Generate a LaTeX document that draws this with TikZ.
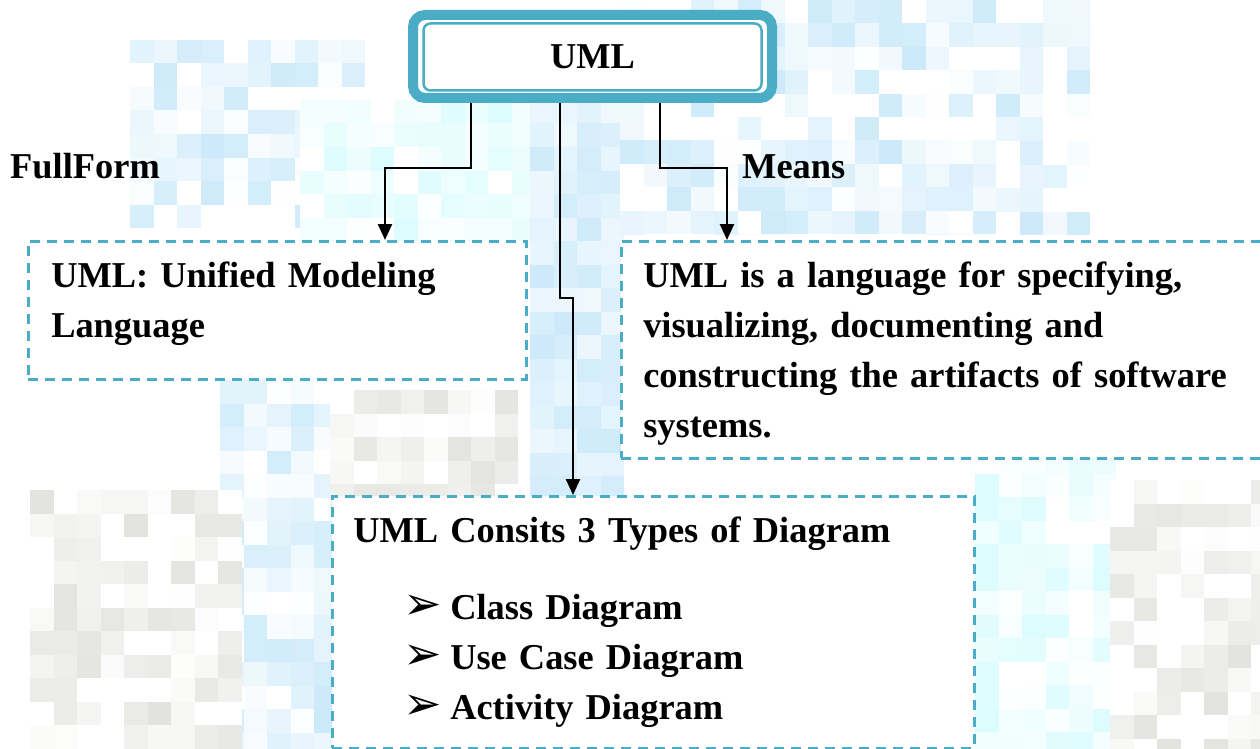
\documentclass[tikz,border=0pt]{standalone}
\usepackage{fontspec}
\setmainfont{Liberation Serif}
\newfontfamily\symfont{DejaVu Sans}
\usetikzlibrary{positioning,arrows.meta}

\definecolor{umlTeal}{HTML}{4BACC6}
\definecolor{mosaicBlue}{HTML}{CDEAFA}
\definecolor{mosaicCyan}{HTML}{DCFCFE}
\definecolor{mosaicGrey}{HTML}{E2E2DE}

\newcommand\bulletItem[1]{\hspace*{50pt}\makebox[47pt][l]{\symfont\mdseries\fontsize{46}{50}\selectfont ➢}#1}

\begin{document}
\begin{tikzpicture}[x=1pt,y=-1pt,
  every node/.style={font=\fontsize{36.4}{50}\selectfont\bfseries},
  noteBox/.style={draw=umlTeal,line width=2.5pt,dash pattern=on 10pt off 7pt,
    fill=white,align=left,inner ysep=0pt,anchor=north west},
  link/.style={line width=2.5pt,-{Triangle[width=14pt,length=16pt]}},
  caption/.style={anchor=base west,inner sep=0pt}
]
  \useasboundingbox (0,0) rectangle (1260,749);
  \clip (0,0) rectangle (1260,749);

  % blurred backdrop, one random cell at a time (negative \lo leaves more cells white)
  \pgfmathsetseed{11}
  \foreach \xa/\ya/\nx/\ny/\lo/\col in {
      130/40/10/8/-50/mosaicBlue, 300/100/10/6/-20/mosaicCyan,
      530/100/4/17/30/mosaicBlue, 620/0/20/10/-70/mosaicBlue,
      620/140/16/4/-20/mosaicBlue, 220/380/5/16/-10/mosaicBlue,
      30/490/9/11/-40/mosaicGrey, 330/390/8/5/-10/mosaicGrey,
      975/450/6/13/-10/mosaicCyan, 1110/480/7/12/-40/mosaicGrey}
  {
    \foreach \i in {1,...,\nx}
      \foreach \j in {1,...,\ny} {
        \pgfmathtruncatemacro\tone{max(0,random(\lo,100))}
        \fill[\col!\tone] (\xa+\i*23.5-23.5,\ya+\j*23.5-23.5) rectangle ++(23.6,23.6);
      }
  }

  % root
  \node[draw=umlTeal,line width=10pt,rounded corners=12pt,fill=white,outer sep=0pt,
    minimum width=359pt,minimum height=83pt] (uml) at (592.5,56.5) {UML};
  \draw[umlTeal,line width=2.5pt,rounded corners=7pt]
    ([shift={(10.5pt,-8.5pt)}]uml.north west) rectangle ([shift={(-10.5pt,7.5pt)}]uml.south east);

  % notes
  \node[noteBox,text width=452pt,inner xsep=23pt,minimum height=138pt] (full) at (27,240)
    {UML: Unified Modeling\\Language\rule[-22pt]{0pt}{0pt}};
  \node[noteBox,text width=601pt,inner xsep=22pt,minimum height=217pt] (means) at (620,240)
    {\rule{0pt}{34pt}UML is a language for specifying,\\visualizing, documenting and\\constructing the artifacts of software\\systems.};
  \node[noteBox,text width=600pt,inner xsep=21pt,minimum height=252pt] (types) at (331,495)
    {UML Consits 3 Types of Diagram\\[27pt]
     \bulletItem{Class Diagram}\\
     \bulletItem{Use Case Diagram}\\
     \bulletItem{Activity Diagram}};

  \node[caption] (fullLabel) at (10,178) {FullForm};
  \node[caption] (meansLabel) at (742,178) {Means};

  % connectors
  \draw[link] ([xshift=58pt,yshift=-5pt]uml.south west) -- ++(0,65) -| ([xshift=358pt]full.north west);
  \draw[link] ([xshift=147pt,yshift=-5pt]uml.south west) -- ++(0,195) -| ([xshift=242pt]types.north west);
  \draw[link] ([xshift=247pt,yshift=-5pt]uml.south west) -- ++(0,65) -| ([xshift=107pt]means.north west);
\end{tikzpicture}
\end{document}
